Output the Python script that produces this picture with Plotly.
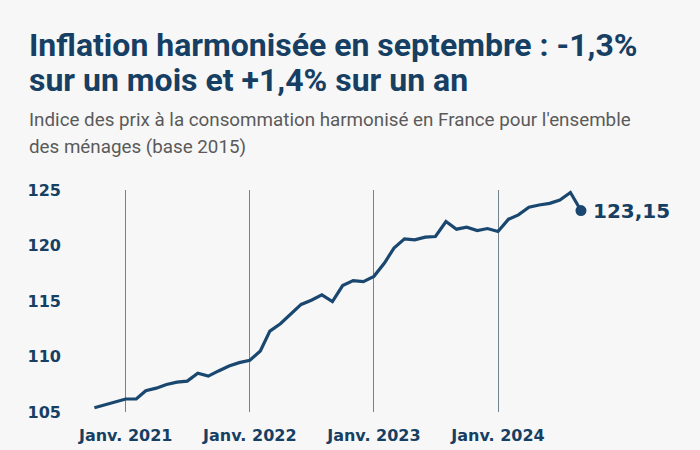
import plotly.graph_objects as go
import pandas as pd

# ---- data ----
months = pd.date_range("2020-10-01", "2024-09-01", freq="MS")
values = [
    105.39, 105.63, 105.90,
    106.17, 106.17, 106.91, 107.15, 107.48, 107.69, 107.78, 108.50, 108.23, 108.70, 109.15, 109.45,
    109.66, 110.50, 112.29, 112.95, 113.79, 114.69, 115.07, 115.55, 114.95, 116.39, 116.84, 116.75,
    117.22, 118.42, 119.77, 120.60, 120.51, 120.75, 120.81, 122.16, 121.47, 121.65, 121.35, 121.53,
    121.26, 122.37, 122.76, 123.45, 123.65, 123.80, 124.10, 124.77, 123.15,
]
xtick_vals = ["2021-01-01", "2022-01-01", "2023-01-01", "2024-01-01"]
xtick_text = ["Janv. 2021", "Janv. 2022", "Janv. 2023", "Janv. 2024"]
ytick_vals = [105, 110, 115, 120, 125]
last_label = "123,15"
title_lines = ["Inflation harmonisée en septembre : -1,3%", "sur un mois et +1,4% sur un an"]
subtitle_lines = ["Indice des prix à la consommation harmonisé en France pour l'ensemble",
                  "des ménages (base 2015)"]

# ---- layout geometry ----
W, H = 700, 450
L, R = 70, 30
T = 190
B = H - 412.5
pw = W - L - R
ph = H - T - B
ppd = (498 - 125.7) / (pd.Timestamp("2024-01-01") - pd.Timestamp("2021-01-01")).days
x_start = pd.Timestamp("2021-01-01") - pd.Timedelta(days=(125.7 - L) / ppd)
x_end = x_start + pd.Timedelta(days=pw / ppd)

def px_x(X):
    return (X - L) / pw

def px_y(Y):
    return (H - B - Y) / ph

NAVY = "#163f63"
LINE = "#19476f"
BG = "#f7f7f7"
TICKFONT = "DejaVu Sans"

fig = go.Figure()
fig.add_trace(go.Scatter(x=months, y=values, mode="lines",
                         line=dict(color=LINE, width=3.2), hoverinfo="x+y"))
fig.add_trace(go.Scatter(x=[months[-1]], y=[values[-1]], mode="markers",
                         marker=dict(color=LINE, size=11), cliponaxis=False, hoverinfo="skip"))

fig.add_annotation(x=months[-1], y=values[-1], xref="x", yref="y", text="<b>%s</b>" % last_label,
                   showarrow=False, xanchor="left", yanchor="middle", xshift=10,
                   font=dict(family=TICKFONT, size=20, color=NAVY))

title_y = [45, 80]
for t, yy in zip(title_lines, title_y):
    fig.add_annotation(x=px_x(27), y=px_y(yy), xref="paper", yref="paper", text="<b>%s</b>" % t,
                       showarrow=False, xanchor="left", yanchor="middle", height=34,
                       font=dict(family="Roboto", size=32, color=NAVY))
sub_y = [119, 146]
for t, yy in zip(subtitle_lines, sub_y):
    fig.add_annotation(x=px_x(27), y=px_y(yy), xref="paper", yref="paper", text=t,
                       showarrow=False, xanchor="left", yanchor="middle", height=25,
                       font=dict(family="Roboto", size=18.8, color="#5a5a5a"))

fig.update_layout(
    width=W, height=H,
    margin=dict(l=L, r=R, t=T, b=B, pad=0, autoexpand=False),
    paper_bgcolor=BG, plot_bgcolor=BG,
    showlegend=False,
    xaxis=dict(type="date", range=[x_start, x_end], tickvals=xtick_vals, ticktext=xtick_text,
               showgrid=True, gridcolor="#74848f", gridwidth=1, zeroline=False, showline=False,
               ticks="", ticklabelstandoff=12, automargin=False,
               tickfont=dict(family=TICKFONT, size=16, color=NAVY, weight="bold")),
    yaxis=dict(range=[105, 125], tickvals=ytick_vals, showgrid=False, zeroline=False,
               showline=False, ticks="", ticklabelstandoff=8, automargin=False,
               tickfont=dict(family=TICKFONT, size=16, color=NAVY, weight="bold")),
)

fig.write_html("out.html")
